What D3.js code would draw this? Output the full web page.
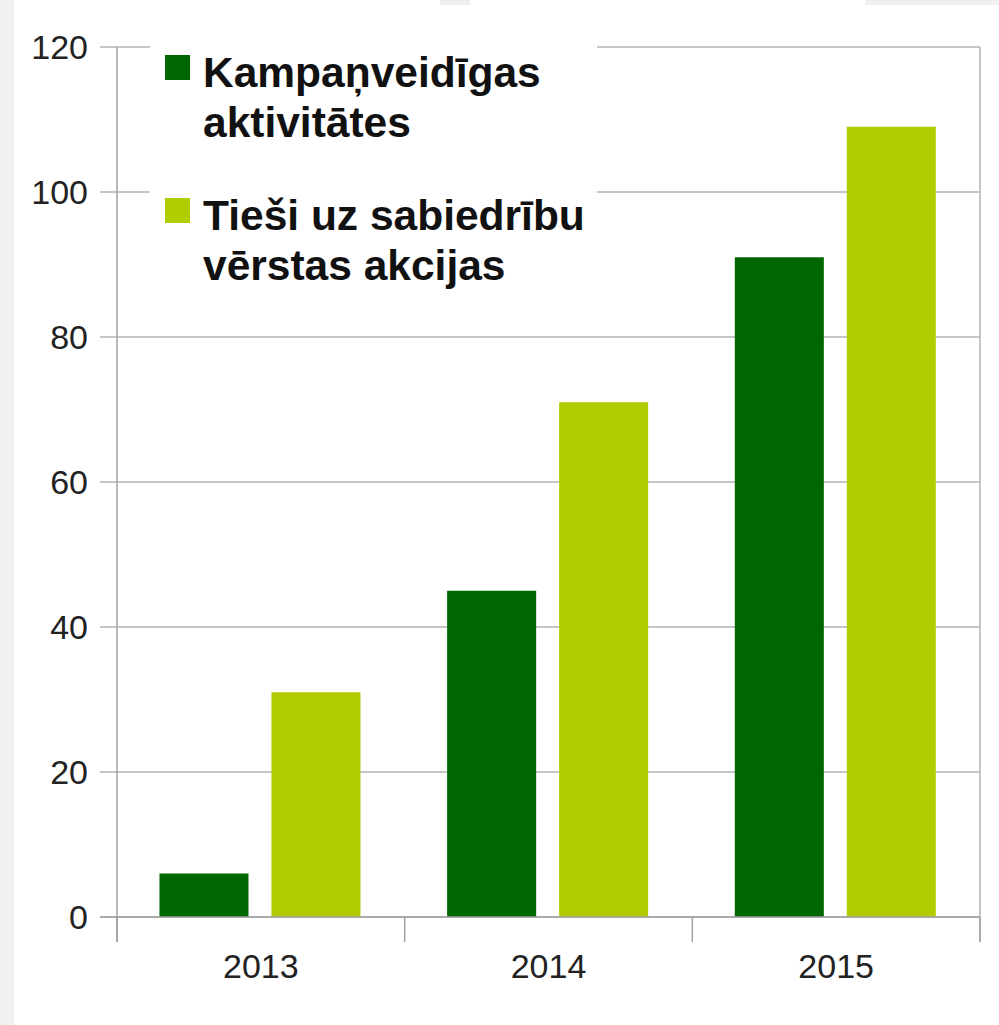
<!DOCTYPE html>
<html><head><meta charset="utf-8">
<script src="https://cdn.jsdelivr.net/npm/d3@7"></script>
<style>body{margin:0;background:#fff}svg{display:block}</style>
</head><body>
<svg id="c" width="999" height="1025"></svg>
<script>
const categories = ["2013", "2014", "2015"];
const seriesNames = ["Kampaņveidīgas aktivitātes", "Tieši uz sabiedrību vērstas akcijas"];
const legendLines = [["Kampaņveidīgas", "aktivitātes"], ["Tieši uz sabiedrību", "vērstas akcijas"]];
const kampanas = [6, 45, 91];
const akcijas = [31, 71, 109];
const yTicks = [0, 20, 40, 60, 80, 100, 120];
const colors = ["#006600", "#b1cc00"];

const svg = d3.select("#c");
// page frame
svg.append("rect").attr("x",0).attr("y",0).attr("width",999).attr("height",1025).attr("fill","#f0f0f0");
svg.append("rect").attr("x",14).attr("y",5).attr("width",985).attr("height",1020).attr("fill","#fff");
svg.append("rect").attr("x",14).attr("y",0).attr("width",426).attr("height",5).attr("fill","#fff");
svg.append("rect").attr("x",470).attr("y",0).attr("width",395).attr("height",5).attr("fill","#fff");

const L = 117, R = 980, T = 47, B = 917;
const y = d3.scaleLinear().domain([0, 120]).range([B, T]);
const x0 = d3.scaleBand().domain(categories).range([L, R]).padding(0);
const x1 = d3.scaleBand().domain(seriesNames).range([0, x0.bandwidth()]).paddingInner(0.205).paddingOuter(0.387).align(0.49);

const font = "'Liberation Sans', Arial, sans-serif";
const grid = "#b3b3b3";

// gridlines
svg.append("g").selectAll("line").data(yTicks).join("line")
  .attr("x1", L - 17).attr("x2", R).attr("y1", d => y(d)).attr("y2", d => y(d))
  .attr("stroke", grid).attr("stroke-width", 1.5);
// right border
svg.append("line").attr("x1", R).attr("x2", R).attr("y1", T).attr("y2", B + 25).attr("stroke", grid).attr("stroke-width", 1.5);
// left axis
svg.append("line").attr("x1", L).attr("x2", L).attr("y1", T).attr("y2", B + 25).attr("stroke", "#a0a0a0").attr("stroke-width", 1.5);
// bottom ticks
const xt = categories.map(c => x0(c)).concat([R]);
svg.append("g").selectAll("line").data(xt).join("line")
  .attr("x1", d => d).attr("x2", d => d).attr("y1", B).attr("y2", B + 25)
  .attr("stroke", "#a0a0a0").attr("stroke-width", 1.5);

// y labels
svg.append("g").selectAll("text").data(yTicks).join("text")
  .attr("x", 88).attr("y", d => y(d)).attr("dy", "0.35em")
  .attr("text-anchor", "end").attr("font-family", font).attr("font-size", 34).attr("fill", "#222")
  .text(d => d);
// x labels
svg.append("g").selectAll("text").data(categories).join("text")
  .attr("x", d => x0(d) + x0.bandwidth() / 2).attr("y", 966).attr("dy", "0.35em")
  .attr("text-anchor", "middle").attr("font-family", font).attr("font-size", 34).attr("fill", "#222")
  .text(d => d);

// legend background
svg.append("rect").attr("x", 150).attr("y", 36).attr("width", 447).attr("height", 268).attr("fill", "#fff");

// bars
const values = [kampanas, akcijas];
const g = svg.append("g");
seriesNames.forEach((s, si) => {
  g.selectAll(null).data(categories).join("rect")
    .attr("x", c => x0(c) + x1(s))
    .attr("width", x1.bandwidth())
    .attr("y", (c, i) => y(values[si][i]))
    .attr("height", (c, i) => B - y(values[si][i]))
    .attr("fill", colors[si]);
});
// redraw baseline over bars
svg.append("line").attr("x1", L - 17).attr("x2", R).attr("y1", B).attr("y2", B).attr("stroke", "#a0a0a0").attr("stroke-width", 1.5);

// legend
const leg = svg.append("g");
const legY = [55, 198];
legendLines.forEach((lines, i) => {
  leg.append("rect").attr("x", 165).attr("y", legY[i]).attr("width", 25).attr("height", 25).attr("fill", colors[i]);
  lines.forEach((t, j) => {
    leg.append("text").attr("x", 203).attr("y", legY[i] + 32 + j * 50)
      .attr("font-family", font).attr("font-weight", "bold").attr("font-size", 42.5).attr("fill", "#111")
      .text(t);
  });
});
</script>
</body></html>
